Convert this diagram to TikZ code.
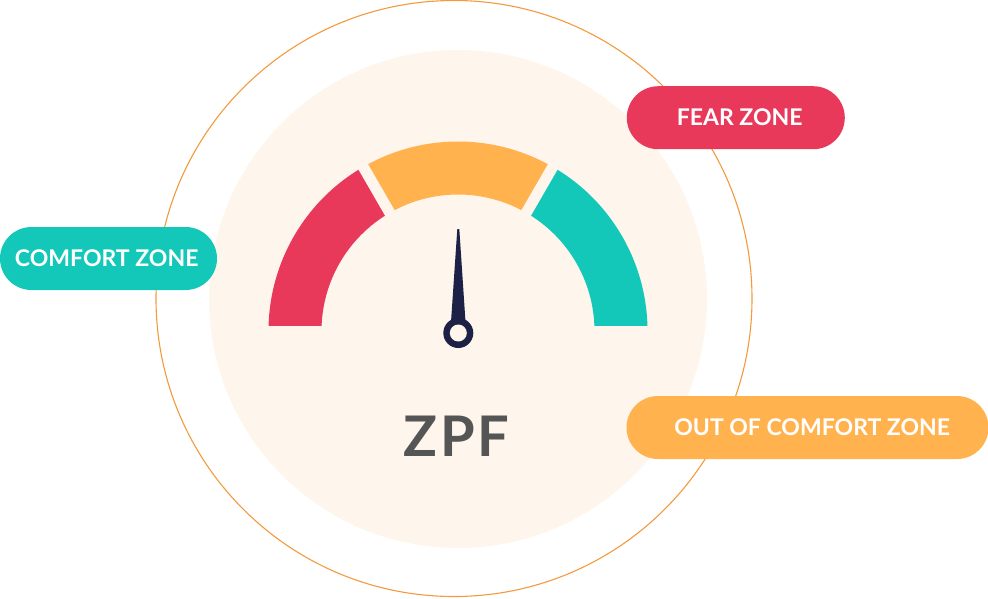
\documentclass[tikz,border=0pt]{standalone}
\usepackage{fontspec}
\setmainfont{Lato}
\usetikzlibrary{calc}
\definecolor{zred}{HTML}{E8395B}
\definecolor{zorange}{HTML}{FFB24D}
\definecolor{zteal}{HTML}{13C8B9}
\definecolor{zcream}{HTML}{FEF5EC}
\definecolor{znavy}{HTML}{1D2145}
\definecolor{zline}{HTML}{F39A3E}
\definecolor{zgray}{HTML}{555555}
\tikzset{
  pill/.style={rounded corners=31.5pt, minimum height=63pt, inner sep=0pt, draw=none},
  pilltext/.style={text=white, font=\bfseries\fontsize{23}{23}\selectfont, anchor=base, inner sep=0pt},
}
\begin{document}
\begin{tikzpicture}[x=1pt,y=-1pt]
\useasboundingbox (0,0) rectangle (988,598);
% circles
\fill[zcream] (458,299) circle[radius=249];
\draw[zline, line width=1.1pt] (454,298.5) circle[radius=298];
% gauge
\coordinate (G) at (458,331);
\begin{scope}
\clip (0,0) rectangle (988,325);
\fill[zred] ($(G)+(-182:189.5)$) arc[start angle=-182, end angle=-120, radius=189.5]
  -- ($(G)+(-120:136.5)$) arc[start angle=-120, end angle=-182, radius=136.5] -- cycle;
\fill[zorange] ($(G)+(-120:189.5)$) arc[start angle=-120, end angle=-60, radius=189.5]
  -- ($(G)+(-60:136.5)$) arc[start angle=-60, end angle=-120, radius=136.5] -- cycle;
\fill[zteal] ($(G)+(-60:189.5)$) arc[start angle=-60, end angle=2, radius=189.5]
  -- ($(G)+(2:136.5)$) arc[start angle=2, end angle=-60, radius=136.5] -- cycle;
\draw[zcream, line width=11pt] ($(G)+(-120:125)$) -- ($(G)+(-120:200)$);
\draw[zcream, line width=11pt] ($(G)+(-60:125)$) -- ($(G)+(-60:200)$);
\end{scope}
% needle
\fill[znavy] (457.3,229) -- (459.3,229) -- (465.5,322) -- (451,322) -- cycle;
\fill[znavy] (458.3,333) circle[radius=15];
\fill[zcream] (458.3,333) circle[radius=8.5];
% label
\node[text=zgray, font=\bfseries\fontsize{56}{56}\selectfont\addfontfeature{LetterSpace=5}, anchor=base, inner sep=0pt] (zpf) at (456.5,456.7) {ZPF};
% pills
\node[pill, fill=zteal, minimum width=217pt] (comfort) at (108.5,258.5) {};
\node[pilltext] (comforttext) at (106.7,266.7) {COMFORT ZONE};
\node[pill, fill=zred, minimum width=218pt] (fear) at (735.8,117.7) {};
\node[pilltext] (feartext) at (739.7,125.3) {FEAR ZONE};
\node[pill, fill=zorange, minimum width=362pt] (out) at (807.5,427.5) {};
\node[pilltext] (outtext) at (812.2,435) {OUT OF COMFORT ZONE};
\end{tikzpicture}
\end{document}
